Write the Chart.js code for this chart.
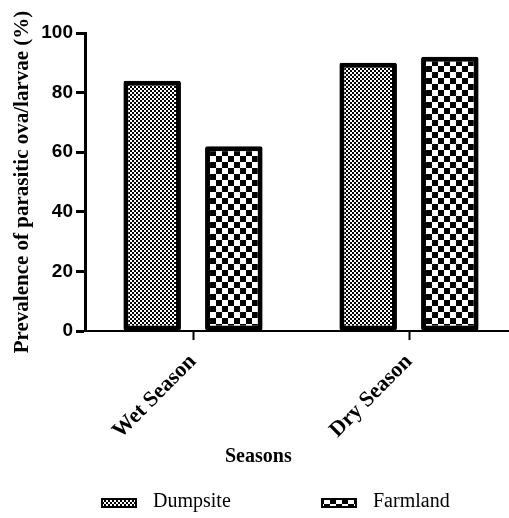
<!DOCTYPE html>
<html><head><meta charset="utf-8">
<script src="https://cdn.jsdelivr.net/npm/chart.js@4.4.1/dist/chart.umd.min.js"></script>
<style>html,body{margin:0;padding:0;background:#fff;}canvas{display:block;}</style>
</head><body>
<canvas id="c" width="509" height="518"></canvas>
<script>
const categories = ['Wet Season', 'Dry Season'];
const seriesNames = ['Dumpsite', 'Farmland'];
const dumpsiteValues = [84, 90];
const farmlandValues = [62, 92];
const yTickValues = [0, 20, 40, 60, 80, 100];
const yTitle = 'Prevalence of parasitic ova/larvae (%)';
const xTitle = 'Seasons';

const SERIF = '"Liberation Serif", "Times New Roman", serif';
const SANS = '"Liberation Sans", Arial, sans-serif';

const canvas = document.getElementById('c');
const ctx = canvas.getContext('2d');

function makePattern(size) {
  const c = document.createElement('canvas');
  c.width = size * 2; c.height = size * 2;
  const g = c.getContext('2d');
  g.fillStyle = '#fff'; g.fillRect(0, 0, size * 2, size * 2);
  g.fillStyle = '#000';
  g.fillRect(0, 0, size, size);
  g.fillRect(size, size, size, size);
  return ctx.createPattern(c, 'repeat');
}
const patterns = [makePattern(2), makePattern(6)];

// the plot area of the reference runs a little past the right edge of the image
const extendX = {
  id: 'extendX',
  afterLayout(chart) {
    const s = chart.scales.x;
    s.right = s.right + 8;
    s.width = s.right - s.left;
    s.configure();
  }
};

const extras = {
  id: 'extras',
  afterDraw(chart) {
    const g = chart.ctx;
    g.save();
    g.fillStyle = '#000';
    g.textAlign = 'left';
    g.textBaseline = 'alphabetic';
    g.font = 'bold 20px ' + SERIF;
    g.fillText(xTitle, 225, 462);
    const boxX = [101, 321];
    g.font = '20px ' + SERIF;
    chart.data.datasets.forEach((ds, i) => {
      const x = boxX[i], y = 498, w = 36, h = 10;
      g.fillStyle = ds.backgroundColor;
      g.fillRect(x, y, w, h);
      g.lineWidth = 2;
      g.strokeStyle = '#000';
      g.strokeRect(x + 1, y + 1, w - 2, h - 2);
      g.fillStyle = '#000';
      g.fillText(ds.label, x + 52, 507);
    });
    g.restore();
  }
};

new Chart(ctx, {
  type: 'bar',
  data: {
    labels: categories,
    datasets: [
      { label: seriesNames[0], data: dumpsiteValues, backgroundColor: patterns[0] },
      { label: seriesNames[1], data: farmlandValues, backgroundColor: patterns[1] }
    ]
  },
  options: {
    responsive: false,
    animation: false,
    events: [],
    layout: { padding: { top: 33, left: 0, right: 0, bottom: 0 } },
    datasets: {
      bar: {
        categoryPercentage: 0.756,
        barPercentage: 0.705,
        borderColor: '#000',
        borderWidth: 5,
        borderSkipped: false,
        borderRadius: 2
      }
    },
    plugins: { legend: { display: false }, tooltip: { enabled: false } },
    scales: {
      x: {
        offset: true,
        grid: { offset: false, drawOnChartArea: false, drawTicks: true, tickLength: 9, tickWidth: 2, tickColor: '#000' },
        border: { display: true, color: '#000', width: 2 },
        ticks: {
          color: '#000',
          font: { family: SERIF, size: 22, weight: 'bold' },
          minRotation: 45, maxRotation: 45, autoSkip: false, padding: 9
        },
        afterFit(s) { s.height = 187; }
      },
      y: {
        min: 0, max: 100,
        afterBuildTicks(s) { s.ticks = yTickValues.map(v => ({ value: v })); },
        ticks: { color: '#000', font: { family: SANS, size: 19, weight: 'bold' }, padding: 3 },
        grid: { drawOnChartArea: false, drawTicks: true, tickLength: 9, tickWidth: 3, tickColor: '#000' },
        border: { display: true, color: '#000', width: 3 },
        title: {
          display: true, text: yTitle, color: '#000',
          font: { family: SERIF, size: 21, weight: 'bold' },
          padding: { top: 10, bottom: 0 }
        },
        afterFit(s) { s.width = 85; }
      }
    }
  },
  plugins: [extendX, extras]
});
</script>
</body></html>
